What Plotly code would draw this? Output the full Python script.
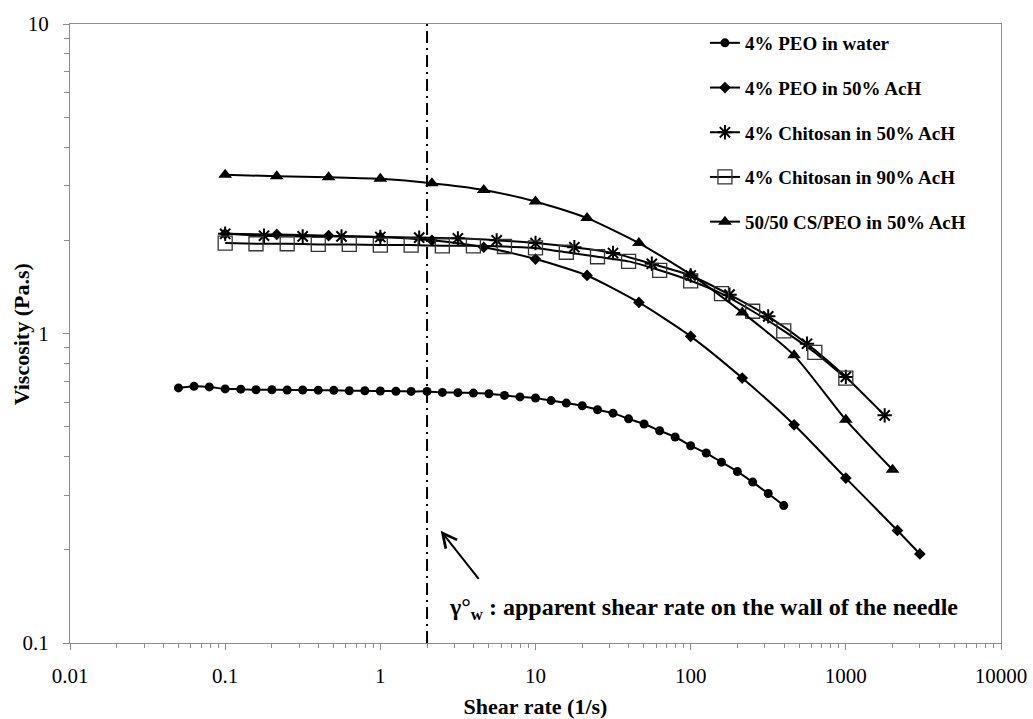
import plotly.graph_objects as go

# Shear rate (1/s) and viscosity (Pa.s) for each solution
water_x = [0.05, 0.063, 0.079, 0.1, 0.126, 0.158, 0.2, 0.251, 0.316, 0.398,
           0.501, 0.631, 0.794, 1.0, 1.26, 1.58, 2.0, 2.51, 3.16, 3.98,
           5.01, 6.31, 7.94, 10.0, 12.6, 15.8, 20.0, 25.1, 31.6, 39.8,
           50.1, 63.1, 79.4, 100, 126, 158, 200, 251, 316, 398]
water_y = [0.667, 0.675, 0.672, 0.662, 0.661, 0.658, 0.658, 0.657, 0.657, 0.656,
           0.655, 0.653, 0.653, 0.652, 0.651, 0.650, 0.650, 0.645, 0.644, 0.642,
           0.639, 0.631, 0.624, 0.619, 0.607, 0.596, 0.584, 0.567, 0.553, 0.530,
           0.510, 0.485, 0.463, 0.434, 0.411, 0.384, 0.358, 0.331, 0.304, 0.278]

peo_x = [0.1, 0.215, 0.464, 1, 2.15, 4.64, 10, 21.5, 46.4, 100, 215, 464, 1000, 2150, 3000]
peo_y = [2.10, 2.09, 2.07, 2.05, 2.00, 1.90, 1.74, 1.54, 1.26, 0.979, 0.718, 0.507, 0.341, 0.231, 0.194]

cs50_x = [0.1, 0.178, 0.316, 0.562, 1, 1.78, 3.16, 5.62, 10, 17.8, 31.6, 56.2,
          100, 178, 316, 562, 1000, 1780]
cs50_y = [2.10, 2.07, 2.06, 2.06, 2.05, 2.04, 2.03, 2.00, 1.96, 1.90, 1.82, 1.68,
          1.54, 1.335, 1.136, 0.927, 0.724, 0.544]

cs90_x = [0.1, 0.158, 0.251, 0.398, 0.631, 1, 1.58, 2.51, 3.98, 6.31, 10, 15.8,
          25.1, 39.8, 63.1, 100, 158, 251, 398, 631, 1000]
cs90_y = [1.96, 1.95, 1.95, 1.94, 1.94, 1.93, 1.93, 1.92, 1.92, 1.91, 1.89, 1.83,
          1.77, 1.71, 1.60, 1.48, 1.345, 1.18, 1.02, 0.869, 0.718]

blend_x = [0.1, 0.215, 0.464, 1, 2.15, 4.64, 10, 21.5, 46.4, 100, 215, 464, 1000, 2000]
blend_y = [3.26, 3.22, 3.20, 3.16, 3.06, 2.91, 2.67, 2.36, 1.96, 1.55, 1.17, 0.85, 0.526, 0.363]

series_names = ["4% PEO in water", "4% PEO in 50% AcH", "4% Chitosan in 50% AcH",
                "4% Chitosan in 90% AcH", "50/50 CS/PEO in 50% AcH"]

x_ticks = [0.01, 0.1, 1, 10, 100, 1000, 10000]
x_ticktext = ["0.01", "0.1", "1", "10", "100", "1000", "10000"]
y_ticks = [0.1, 1, 10]
y_ticktext = ["0.1", "1", "10"]

wall_shear_rate = 2.0

FONT = "Liberation Serif"
AXIS_GREY = "#8c8c8c"

fig = go.Figure()

marker_styles = [
    dict(symbol="circle", size=9, color="black"),
    dict(symbol="diamond", size=9, color="black"),
    dict(symbol="asterisk-open", size=12, color="black", line=dict(color="black", width=2)),
    dict(symbol="square-open", size=14, color="#333333", line=dict(color="#333333", width=1.3)),
    dict(symbol="triangle-up", size=12, color="black"),
]
data = [(water_x, water_y), (peo_x, peo_y), (cs50_x, cs50_y), (cs90_x, cs90_y), (blend_x, blend_y)]

for i, ((xs, ys), name, mk) in enumerate(zip(data, series_names, marker_styles)):
    fig.add_trace(go.Scatter(
        x=xs, y=ys, name=f"<b>{name}</b>", mode="lines+markers",
        line=dict(color="black", width=2, shape="spline", smoothing=0.6),
        marker=mk, legendgroup=f"g{i}",
    ))

# vertical marker for the apparent wall shear rate
fig.add_shape(type="line", xref="x", yref="paper",
              x0=wall_shear_rate, x1=wall_shear_rate, y0=0, y1=1,
              line=dict(color="black", width=2, dash="12px,5px,2px,5px"))

# arrow pointing at the wall shear rate line
fig.add_annotation(
    x=0.389, y=-0.637, xref="x", yref="y",
    ax=41, ay=52, showarrow=True, arrowhead=5, arrowsize=1.4, arrowwidth=2,
    arrowcolor="black", text=" ",
)
fig.add_annotation(
    x=0.389, y=-0.89, xref="x", yref="y", xanchor="left", yanchor="middle",
    xshift=6, showarrow=False,
    text="<b>γ°<sub>w</sub> : apparent shear rate on the wall of the needle</b>",
    font=dict(family=FONT, size=24, color="black"),
)

# y-axis title placed next to the tick labels
fig.add_annotation(
    x=-0.052, y=0.498, xref="paper", yref="paper", xanchor="center", yanchor="middle",
    showarrow=False, textangle=-90,
    text="<b>Viscosity (Pa.s)</b>",
    font=dict(family=FONT, size=22, color="black"),
)

fig.update_layout(
    width=1033, height=719,
    margin=dict(l=70, r=32, t=24, b=76),
    paper_bgcolor="white", plot_bgcolor="white",
    font=dict(family=FONT, color="black"),
    showlegend=True,
    legend=dict(
        x=0.682, y=1.0, xanchor="left", yanchor="top",
        font=dict(family=FONT, size=19, color="black"),
        bgcolor="rgba(255,255,255,0)", tracegroupgap=17,
    ),
)

fig.update_xaxes(
    type="log", range=[-2, 4], automargin=False,
    tickvals=x_ticks, ticktext=x_ticktext,
    tickfont=dict(family=FONT, size=21, color="black"),
    ticks="outside", ticklen=6, tickcolor=AXIS_GREY, ticklabelstandoff=8,
    minor=dict(ticks="outside", ticklen=4, tickcolor=AXIS_GREY, dtick="D1", showgrid=False),
    showline=True, linecolor=AXIS_GREY, linewidth=1.3, mirror=True,
    showgrid=False, zeroline=False,
    title=dict(text="<b>Shear rate (1/s)</b>", font=dict(family=FONT, size=22, color="black"), standoff=12),
)
fig.update_yaxes(
    type="log", range=[-1, 1], automargin=False,
    tickvals=y_ticks, ticktext=y_ticktext,
    tickfont=dict(family=FONT, size=21, color="black"),
    ticks="outside", ticklen=6, tickcolor=AXIS_GREY, ticklabelstandoff=10,
    minor=dict(ticks="outside", ticklen=5, tickcolor=AXIS_GREY, dtick="D1", showgrid=False),
    showline=True, linecolor=AXIS_GREY, linewidth=1.3, mirror=True,
    showgrid=False, zeroline=False,
)

fig.write_html("out.html")
